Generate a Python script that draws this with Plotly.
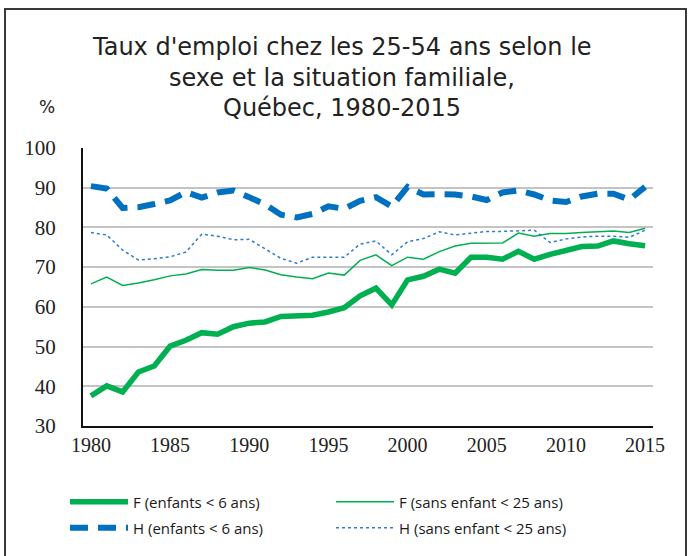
import plotly.graph_objects as go

years = list(range(1980, 2016))

f_enfants = [37.6, 40.1, 38.6, 43.6, 45.1, 50.1, 51.6, 53.5, 53.1, 55.0,
             55.9, 56.2, 57.6, 57.8, 57.9, 58.7, 59.8, 62.8, 64.7, 60.5,
             66.8, 67.7, 69.5, 68.5, 72.5, 72.5, 72.0, 74.0, 72.0, 73.2,
             74.1, 75.2, 75.3, 76.6, 75.9, 75.4]

f_sans = [65.8, 67.5, 65.4, 66.0, 66.8, 67.8, 68.3, 69.4, 69.2, 69.2,
          69.9, 69.3, 68.1, 67.5, 67.1, 68.5, 68.0, 71.7, 73.1, 70.4,
          72.5, 72.0, 73.9, 75.3, 76.0, 76.1, 76.1, 78.6, 77.8, 78.5,
          78.5, 78.7, 78.9, 79.1, 78.7, 79.8]

h_enfants = [90.4, 89.8, 84.9, 85.1, 85.9, 86.8, 88.9, 87.5, 88.8, 89.3,
             87.6, 85.8, 83.2, 82.5, 83.4, 85.3, 84.7, 86.7, 87.6, 85.3,
             90.2, 88.3, 88.4, 88.3, 87.8, 86.9, 88.8, 89.3, 88.3, 86.8,
             86.4, 87.8, 88.5, 88.5, 87.0, 90.2]

h_sans = [78.7, 78.1, 74.3, 71.8, 72.1, 72.6, 73.8, 78.3, 77.8, 76.9,
          77.0, 74.7, 72.2, 71.0, 72.5, 72.5, 72.5, 75.8, 76.6, 73.1,
          76.4, 77.2, 78.9, 78.1, 78.5, 79.0, 79.0, 79.1, 79.3, 76.2,
          77.1, 77.6, 77.8, 77.8, 77.5, 79.3]

names = ["F (enfants < 6 ans)", "F (sans enfant < 25 ans)",
         "H (enfants < 6 ans)", "H (sans enfant < 25 ans)"]

title_lines = ["Taux d'emploi chez les 25-54 ans selon le",
               "sexe et la situation familiale,",
               "Québec, 1980-2015"]

ytick_vals = [30, 40, 50, 60, 70, 80, 90, 100]
xtick_vals = [1980, 1985, 1990, 1995, 2000, 2005, 2010, 2015]

GREEN = "#00B050"
BLUE = "#0070C0"

L, R, T, B = 83, 39, 148, 130
W, H = 692, 556
pw, ph = W - L - R, H - T - B

def px2paper_x(px):
    return (px - L) / pw

def px2paper_y(py):
    return (H - B - py) / ph

fig = go.Figure()
fig.add_trace(go.Scatter(x=years, y=f_enfants, name=names[0], mode="lines",
                         legend="legend",
                         line=dict(color=GREEN, width=5.5)))
fig.add_trace(go.Scatter(x=years, y=f_sans, name=names[1], mode="lines",
                         legend="legend2",
                         line=dict(color=GREEN, width=1.5)))
fig.add_trace(go.Scatter(x=years, y=h_enfants, name=names[2], mode="lines",
                         legend="legend3",
                         line=dict(color=BLUE, width=6, dash="18px,10px")))
fig.add_trace(go.Scatter(x=years, y=h_sans, name=names[3], mode="lines",
                         legend="legend4",
                         line=dict(color="#2E7BCF", width=1.5, dash="dot")))

annotations = []
for i, line in enumerate(title_lines):
    annotations.append(dict(
        text=line, xref="paper", yref="paper",
        x=px2paper_x(342), y=px2paper_y(47 + i * 30.5),
        xanchor="center", yanchor="middle", showarrow=False,
        font=dict(family="DejaVu Sans", size=24, color="#222222")))
annotations.append(dict(
    text="%", xref="paper", yref="paper",
    x=px2paper_x(47), y=px2paper_y(107),
    xanchor="center", yanchor="middle", showarrow=False,
    font=dict(family="DejaVu Sans", size=17, color="#222222")))

shapes = [dict(type="rect", xref="paper", yref="paper",
               x0=px2paper_x(5), x1=px2paper_x(686),
               y0=px2paper_y(580), y1=px2paper_y(9),
               line=dict(color="#3a3a3a", width=2), layer="below")]

def leg(xpx, ypx):
    return dict(orientation="v", x=px2paper_x(xpx), y=px2paper_y(ypx),
                xanchor="left", yanchor="middle", itemwidth=58,
                font=dict(family="Open Sans", size=15, color="#1a1a1a"),
                bgcolor="rgba(0,0,0,0)")

fig.update_layout(
    width=W, height=H,
    margin=dict(l=L, r=R, t=T, b=B, autoexpand=False),
    paper_bgcolor="white", plot_bgcolor="white",
    showlegend=True,
    legend=leg(65, 502),
    legend2=leg(331, 502),
    legend3=leg(65, 528),
    legend4=leg(331, 528),
    annotations=annotations,
    shapes=shapes,
    xaxis=dict(range=[1979.5, 2015.5], tickvals=xtick_vals,
               ticktext=[str(v) for v in xtick_vals],
               showgrid=False, zeroline=False,
               showline=True, linecolor="#111111", linewidth=2,
               ticks="", ticklen=0, ticklabelstandoff=0,
               tickfont=dict(family="Liberation Serif", size=20, color="#222222")),
    yaxis=dict(range=[30, 100], tickvals=ytick_vals,
               showgrid=True, gridcolor="#c4c4c4", gridwidth=2,
               zeroline=False, showline=True, linecolor="#111111", linewidth=2,
               ticks="", ticklen=0, ticklabelstandoff=21,
               tickfont=dict(family="Liberation Serif", size=21, color="#222222")),
)

fig.write_html("out.html", config={"displayModeBar": False},
               post_script="document.body.style.margin='0';")
